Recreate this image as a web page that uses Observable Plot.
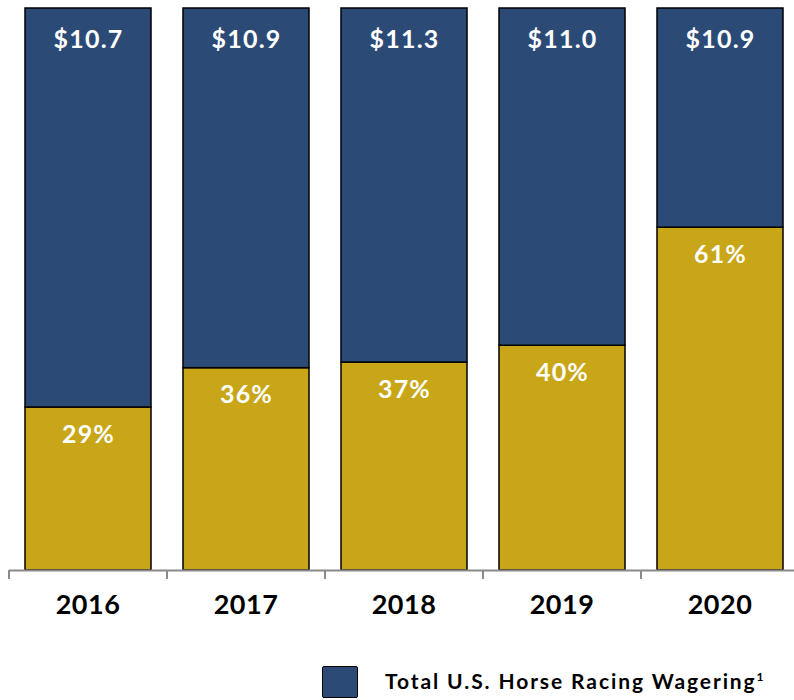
<!DOCTYPE html>
<html>
<head>
<meta charset="utf-8">
<script src="https://cdn.jsdelivr.net/npm/d3@7"></script>
<script src="https://cdn.jsdelivr.net/npm/@observablehq/plot@0.6"></script>
<style>
  html, body { margin: 0; padding: 0; background: #fff; }
  body { width: 794px; height: 700px; overflow: hidden; font-family: Lato, "Open Sans", sans-serif; }
  #chart svg { display: block; overflow: visible; }
  #legend { position: relative; height: 60px; }
  #legend .sw { position: absolute; left: 322px; top: 26px; width: 34px; height: 30px; background: #2c4a76; border: 1.5px solid #000; border-radius: 2px; }
  #legend .lb { position: absolute; left: 385px; top: 30px; font: bold 21px Lato, sans-serif; letter-spacing: 1.9px; color: #000; line-height: 22px; white-space: nowrap; }
  #legend sup { font-size: 12px; vertical-align: 8px; letter-spacing: 0; line-height: 0; }
</style>
</head>
<body>
<div id="chart"></div>
<div id="legend"><div class="sw"></div><div class="lb">Total U.S. Horse Racing Wagering<sup>1</sup></div></div>
<script>
const years = ["2016", "2017", "2018", "2019", "2020"];
const totals = [10.7, 10.9, 11.3, 11.0, 10.9];   // $ billions
const shares = [29, 36, 37, 40, 61];              // % share (gold)

const NAVY = "#2c4a76";
const GOLD = "#c8a617";

const rows = years.map((y, i) => ({year: y, total: totals[i], share: shares[i]}));

function bandAxis(index, scales, values, dimensions) {
  const x = scales.x;
  const dom = x.domain();
  const step = x(dom[1]) - x(dom[0]);
  const pad = (step - x.bandwidth()) / 2;
  const y0 = dimensions.height - dimensions.marginBottom;
  const g = d3.create("svg:g");
  const edges = dom.map(d => x(d) - pad).concat([x(dom[dom.length - 1]) + x.bandwidth() + pad]);
  g.append("line")
    .attr("x1", edges[0]).attr("x2", edges[edges.length - 1])
    .attr("y1", y0 + 0.5).attr("y2", y0 + 0.5)
    .attr("stroke", "#8a8a8a").attr("stroke-width", 2);
  for (const e of edges) {
    g.append("line").attr("x1", e).attr("x2", e).attr("y1", y0).attr("y2", y0 + 9)
      .attr("stroke", "#8a8a8a").attr("stroke-width", 2);
  }
  for (const d of dom) {
    g.append("text").attr("x", x(d) + x.bandwidth() / 2).attr("y", y0 + 37)
      .attr("text-anchor", "middle").attr("dominant-baseline", "middle")
      .attr("font-family", "Lato, sans-serif").attr("font-weight", "bold")
      .attr("font-size", 27).attr("letter-spacing", 0.5).attr("fill", "#000").text(d);
  }
  return g.node();
}

const plot = Plot.plot({
  width: 794,
  height: 640,
  marginTop: 8,
  marginBottom: 70,
  marginLeft: 9,
  marginRight: -6,
  x: {domain: years, paddingInner: 0.2, paddingOuter: 0.1, axis: null},
  y: {domain: [0, 100], axis: null},
  style: {fontFamily: "Lato, sans-serif", background: "#fff"},
  marks: [
    Plot.barY(rows, {x: "year", y1: 0, y2: "share", fill: GOLD, stroke: "#000", strokeWidth: 1.5}),
    Plot.barY(rows, {x: "year", y1: "share", y2: 100, fill: NAVY, stroke: "#000", strokeWidth: 1.5}),
    Plot.text(rows, {x: "year", y: () => 100, dy: 31, text: d => "$" + d.total.toFixed(1),
      fill: "#fff", fontWeight: "bold", fontSize: 25, lineAnchor: "middle"}),
    Plot.text(rows, {x: "year", y: "share", dy: 27, text: d => d.share + "%",
      fill: "#fff", fontWeight: "bold", fontSize: 25, lineAnchor: "middle"}),
    bandAxis
  ]
});
d3.select(plot).selectAll('g[aria-label="text"] text').attr("letter-spacing", 1.2);
document.getElementById("chart").appendChild(plot);
</script>
</body>
</html>
